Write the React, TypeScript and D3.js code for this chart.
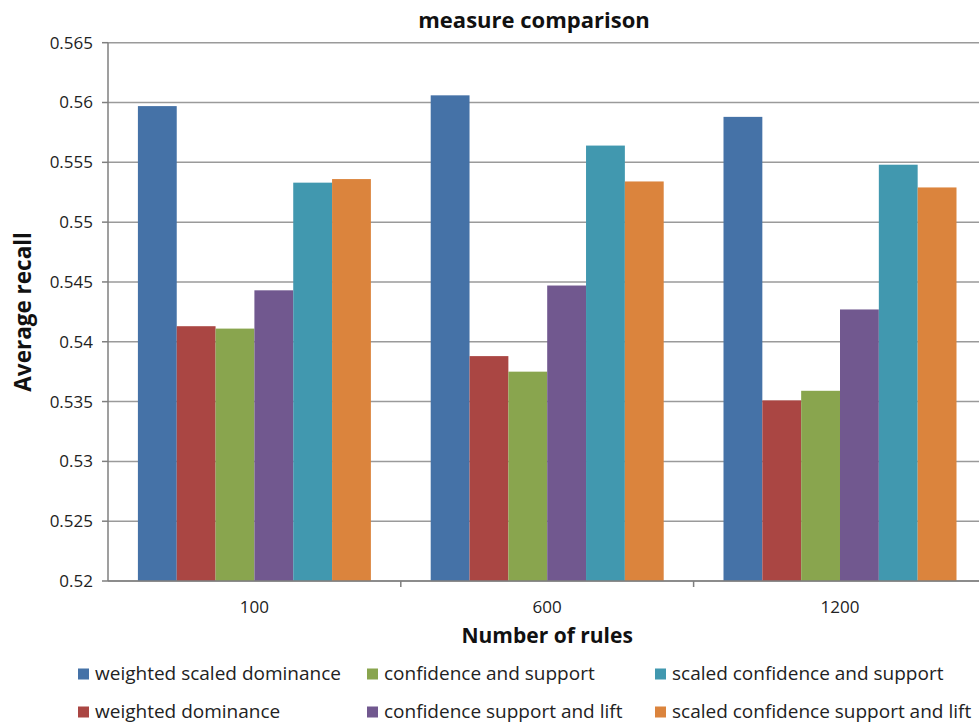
import React from "react";
import * as d3 from "d3";

const categories = ["100", "600", "1200"];
const seriesNames = [
  "weighted scaled dominance",
  "weighted dominance",
  "confidence and support",
  "confidence support and lift",
  "scaled confidence and support",
  "scaled confidence support and lift",
];
const seriesColors = ["#4572A7", "#AA4643", "#89A54E", "#71588F", "#4198AF", "#DB843D"];
// values[seriesIndex][categoryIndex]
const weightedScaledDominance = [0.5597, 0.5606, 0.5588];
const weightedDominance = [0.5413, 0.5388, 0.5351];
const confidenceAndSupport = [0.5411, 0.5375, 0.5359];
const confidenceSupportLift = [0.5443, 0.5447, 0.5427];
const scaledConfidenceSupport = [0.5533, 0.5564, 0.5548];
const scaledConfidenceSupportLift = [0.5536, 0.5534, 0.5529];
const seriesValues = [
  weightedScaledDominance,
  weightedDominance,
  confidenceAndSupport,
  confidenceSupportLift,
  scaledConfidenceSupport,
  scaledConfidenceSupportLift,
];
const yTicks = [0.52, 0.525, 0.53, 0.535, 0.54, 0.545, 0.55, 0.555, 0.56, 0.565];

const W = 979;
const H = 723;
const FONT = "'Open Sans', sans-serif";
const plotLeft = 108;
const plotTop = 42.7;
const plotBottom = 581;
const catWidth = 292.8;

export default function App() {
  const x0 = d3
    .scaleBand<string>()
    .domain(categories)
    .range([plotLeft, plotLeft + catWidth * categories.length])
    .paddingInner(0)
    .paddingOuter(0);
  const x1 = d3
    .scaleBand<string>()
    .domain(seriesNames)
    .range([0, x0.bandwidth()])
    .paddingInner(0)
    .paddingOuter(0.77);
  const y = d3.scaleLinear().domain([0.52, 0.565]).range([plotBottom, plotTop]);
  const plotRight = plotLeft + catWidth * categories.length;

  const legendCols = [78, 367, 655];
  const legendRows = [674, 712];

  return (
    <svg
      width={W}
      height={H}
      style={{ position: "absolute", left: 0, top: 0, display: "block", background: "#fff" }}
      fontFamily={FONT}
    >
      <rect width={W} height={H} fill="#fff" />
      <text x={534} y={28} textAnchor="middle" fontSize={22} fontWeight="bold" fill="#111">
        measure comparison
      </text>

      {/* gridlines */}
      {yTicks.map((t) => (
        <line key={"g" + t} x1={plotLeft} x2={plotRight} y1={y(t)} y2={y(t)} stroke="#9a9a9a" strokeWidth={1.5} />
      ))}

      {/* bars */}
      {categories.map((c, ci) => (
        <g key={c} transform={`translate(${x0(c)},0)`}>
          {seriesNames.map((s, si) => {
            const v = seriesValues[si][ci];
            return (
              <rect
                key={s}
                x={x1(s)}
                y={y(v)}
                width={x1.bandwidth()}
                height={y(0.52) - y(v)}
                fill={seriesColors[si]}
              />
            );
          })}
        </g>
      ))}

      {/* y axis */}
      <line x1={plotLeft} x2={plotLeft} y1={plotTop} y2={plotBottom} stroke="#7f7f7f" strokeWidth={1.5} />
      {yTicks.map((t) => (
        <g key={"t" + t}>
          <line x1={plotLeft - 6} x2={plotLeft} y1={y(t)} y2={y(t)} stroke="#7f7f7f" strokeWidth={1.5} />
          <text x={93} y={y(t)} dy="0.35em" textAnchor="end" fontSize={17} fill="#222">
            {d3.format("")(+t.toFixed(3))}
          </text>
        </g>
      ))}

      {/* x axis */}
      <line x1={plotLeft} x2={plotRight} y1={plotBottom} y2={plotBottom} stroke="#7f7f7f" strokeWidth={1.5} />
      {categories.map((c, i) => (
        <g key={"x" + c}>
          {i > 0 && (
            <line
              x1={x0(c)}
              x2={x0(c)}
              y1={plotBottom}
              y2={plotBottom + 6}
              stroke="#7f7f7f"
              strokeWidth={1.5}
            />
          )}
          <text x={(x0(c) as number) + x0.bandwidth() / 2} y={613} textAnchor="middle" fontSize={17} fill="#222">
            {c}
          </text>
        </g>
      ))}

      <text x={(plotLeft + plotRight) / 2} y={643} textAnchor="middle" fontSize={21} fontWeight="bold" fill="#111">
        Number of rules
      </text>
      <text
        transform={`translate(31, ${(plotTop + plotBottom) / 2}) rotate(-90)`}
        textAnchor="middle"
        fontSize={22.5}
        fontWeight="bold"
        fill="#111"
      >
        Average recall
      </text>

      {/* legend: column-major, two rows */}
      {seriesNames.map((s, i) => {
        const col = Math.floor(i / 2);
        const row = i % 2;
        const lx = legendCols[col];
        const ly = legendRows[row];
        return (
          <g key={"l" + s}>
            <rect x={lx} y={ly - 5.5} width={11} height={11} fill={seriesColors[i]} />
            <text x={lx + 17} y={ly + 5.5} fontSize={19} fill="#222">
              {s}
            </text>
          </g>
        );
      })}
    </svg>
  );
}
